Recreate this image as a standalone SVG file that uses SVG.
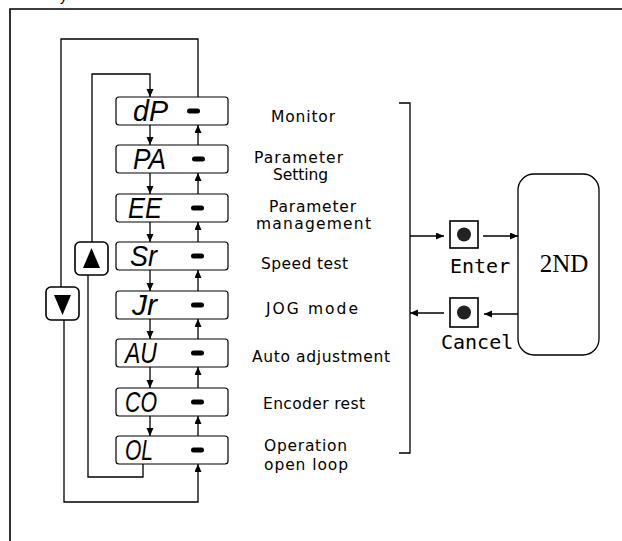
<svg xmlns="http://www.w3.org/2000/svg" width="622" height="541" viewBox="0 0 622 541">
<style>
.ln{fill:none;stroke:#000;stroke-width:1.3}
.box{fill:#fff;stroke:#000;stroke-width:1.2}
.btn{fill:#fff;stroke:#000;stroke-width:1.6}
.seg{font-family:"Liberation Sans",Arial,sans-serif;font-style:italic;font-size:29px;fill:#000}
.lbl{font-family:"DejaVu Sans",sans-serif;font-size:15.5px;fill:#000}
.mono{font-family:"DejaVu Sans Mono","Liberation Mono",monospace;font-size:20px;fill:#000}
.dash{fill:#000}
</style>
<defs>
<marker id="ah" markerUnits="userSpaceOnUse" markerWidth="9" markerHeight="8" refX="8" refY="3.5" orient="auto">
<path d="M0,0 L8,3.5 L0,7 z" fill="#000"/>
</marker>
</defs>
<rect width="622" height="541" fill="#fff"/>
<text x="60" y="0.5" style="font-family:'Liberation Sans',sans-serif;font-size:14px">y</text>
<path d="M622,9 H10 V541" fill="none" stroke="#000" stroke-width="1.6"/>

<g id="connectors">
<path class="ln" d="M92,242 V74 H150 V97" marker-end="url(#ah)"/>
<path class="ln" d="M143,464 V477 H88 V275"/>
<path class="ln" d="M198,97 V39 H61 V287"/>
<path class="ln" d="M64,320 V502 H198 V464" marker-end="url(#ah)"/>
<path class="ln" d="M150,125 V145" marker-end="url(#ah)"/>
<path class="ln" d="M150,173 V194" marker-end="url(#ah)"/>
<path class="ln" d="M150,222 V242" marker-end="url(#ah)"/>
<path class="ln" d="M150,270 V291" marker-end="url(#ah)"/>
<path class="ln" d="M150,319 V339" marker-end="url(#ah)"/>
<path class="ln" d="M150,367 V388" marker-end="url(#ah)"/>
<path class="ln" d="M150,416 V436" marker-end="url(#ah)"/>
<path class="ln" d="M198,145 V125" marker-end="url(#ah)"/>
<path class="ln" d="M198,194 V173" marker-end="url(#ah)"/>
<path class="ln" d="M198,242 V222" marker-end="url(#ah)"/>
<path class="ln" d="M198,291 V270" marker-end="url(#ah)"/>
<path class="ln" d="M198,339 V319" marker-end="url(#ah)"/>
<path class="ln" d="M198,388 V367" marker-end="url(#ah)"/>
<path class="ln" d="M198,436 V416" marker-end="url(#ah)"/>
<path class="ln" d="M399,103 H410 V453 H399"/>
<path class="ln" d="M410,236 H444" marker-end="url(#ah)"/>
<path class="ln" d="M483,236 H518" marker-end="url(#ah)"/>
<path class="ln" d="M518,314 H484" marker-end="url(#ah)"/>
<path class="ln" d="M444,313 H410" marker-end="url(#ah)"/>
</g>

<g id="dP">
<rect class="box" x="116" y="97" width="112" height="28" rx="3"/>
<text class="seg" x="133" y="121" textLength="35" lengthAdjust="spacingAndGlyphs">dP</text>
<rect class="dash" x="187" y="108.5" width="13" height="5" rx="2.5"/>
</g>
<g id="PA">
<rect class="box" x="116" y="145" width="112" height="28" rx="3"/>
<text class="seg" x="133" y="169" textLength="33" lengthAdjust="spacingAndGlyphs">PA</text>
<rect class="dash" x="192" y="156.5" width="13" height="5" rx="2.5"/>
</g>
<g id="EE">
<rect class="box" x="116" y="194" width="112" height="28" rx="3"/>
<text class="seg" x="128" y="218" textLength="34" lengthAdjust="spacingAndGlyphs">EE</text>
<rect class="dash" x="191" y="205.5" width="13" height="5" rx="2.5"/>
</g>
<g id="Sr">
<rect class="box" x="116" y="242" width="112" height="28" rx="3"/>
<text class="seg" x="130" y="266" textLength="27" lengthAdjust="spacingAndGlyphs">Sr</text>
<rect class="dash" x="191" y="253.5" width="13" height="5" rx="2.5"/>
</g>
<g id="Jr">
<rect class="box" x="116" y="291" width="112" height="28" rx="3"/>
<text class="seg" x="132" y="315" textLength="25" lengthAdjust="spacingAndGlyphs">Jr</text>
<rect class="dash" x="191" y="302.5" width="13" height="5" rx="2.5"/>
</g>
<g id="AU">
<rect class="box" x="116" y="339" width="112" height="28" rx="3"/>
<text class="seg" x="125" y="363" textLength="32" lengthAdjust="spacingAndGlyphs">AU</text>
<rect class="dash" x="191" y="350.5" width="13" height="5" rx="2.5"/>
</g>
<g id="CO">
<rect class="box" x="116" y="388" width="112" height="28" rx="3"/>
<text class="seg" x="125" y="412" textLength="32" lengthAdjust="spacingAndGlyphs">CO</text>
<rect class="dash" x="191" y="399.5" width="13" height="5" rx="2.5"/>
</g>
<g id="OL">
<rect class="box" x="116" y="436" width="112" height="28" rx="3"/>
<text class="seg" x="125" y="460" textLength="28" lengthAdjust="spacingAndGlyphs">OL</text>
<rect class="dash" x="191" y="447.5" width="13" height="5" rx="2.5"/>
</g>

<g id="up-button">
<rect class="btn" x="75" y="242" width="33" height="33" rx="5"/>
<path d="M91.5,248 L100,268 L83,268 z" fill="#000"/>
</g>
<g id="down-button">
<rect class="btn" x="46" y="287" width="33" height="33" rx="5"/>
<path d="M54,295 L71,295 L62.5,315 z" fill="#000"/>
</g>

<g id="labels">
<text class="lbl" x="271" y="122" textLength="64" lengthAdjust="spacing">Monitor</text>
<text class="lbl" x="254" y="163" textLength="89" lengthAdjust="spacing">Parameter</text>
<text class="lbl" x="273" y="180" textLength="55" lengthAdjust="spacing">Setting</text>
<text class="lbl" x="269" y="212" textLength="87" lengthAdjust="spacing">Parameter</text>
<text class="lbl" x="256" y="229" textLength="115" lengthAdjust="spacing">management</text>
<text class="lbl" x="261" y="269" textLength="87" lengthAdjust="spacing">Speed test</text>
<text class="lbl" x="266" y="314" textLength="92" lengthAdjust="spacing">JOG mode</text>
<text class="lbl" x="252" y="362" textLength="138" lengthAdjust="spacing">Auto adjustment</text>
<text class="lbl" x="263" y="409" textLength="102" lengthAdjust="spacing">Encoder rest</text>
<text class="lbl" x="264" y="451" textLength="83" lengthAdjust="spacing">Operation</text>
<text class="lbl" x="264" y="470" textLength="84" lengthAdjust="spacing">open loop</text>
</g>

<g id="enter">
<rect class="btn" x="450" y="221" width="28" height="27"/>
<circle cx="464" cy="234.5" r="7" fill="#222"/>
<text class="mono" x="450" y="273">Enter</text>
</g>
<g id="cancel">
<rect class="btn" x="450" y="298" width="28" height="29"/>
<circle cx="464" cy="312.5" r="7" fill="#222"/>
<text class="mono" x="441" y="349">Cancel</text>
</g>
<g id="second">
<rect x="518" y="174" width="81" height="181" rx="16" fill="#fff" stroke="#000" stroke-width="1.3"/>
<text x="564" y="272" text-anchor="middle" style="font-family:'Liberation Serif','Times New Roman',serif;font-size:25px">2ND</text>
</g>
</svg>
